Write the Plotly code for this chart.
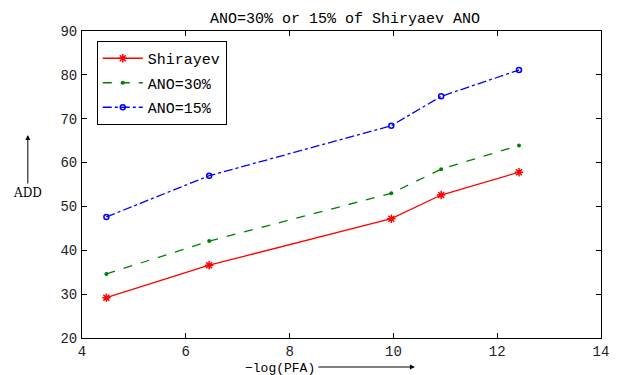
import plotly.graph_objects as go

pfa = [4.47, 6.45, 9.96, 10.92, 12.42]
shirayev = [29.2, 36.6, 47.2, 52.6, 57.8]
ano30 = [34.6, 42.1, 53.0, 58.5, 63.9]
ano15 = [47.6, 57.0, 68.4, 75.1, 81.1]

x_ticks = [4, 6, 8, 10, 12, 14]
y_ticks = [20, 30, 40, 50, 60, 70, 80, 90]

mono = "Liberation Mono"
# page offset from default body margin (8px) is compensated in sizes/margins
L, T, R, B = 82, 31, 609, 338
PW, PH = R - L, B - T


def px(xp):
    return (xp - L) / PW


def py(yp):
    return (B - yp) / PH


fig = go.Figure()
fig.add_trace(go.Scatter(x=pfa, y=shirayev, name="Shirayev", mode="lines+markers", legendgroup="a",
                         line=dict(color="red", width=1.3),
                         marker=dict(symbol="asterisk-open", size=7, color="red", line=dict(width=1.5, color="red"))))
fig.add_trace(go.Scatter(x=pfa, y=ano30, name="ANO=30%", mode="lines+markers", legendgroup="b",
                         line=dict(color="green", width=1.3, dash="dash"),
                         marker=dict(symbol="circle", size=4, color="green")))
fig.add_trace(go.Scatter(x=pfa, y=ano15, name="ANO=15%", mode="lines+markers", legendgroup="c",
                         line=dict(color="blue", width=1.3, dash="dashdot"),
                         marker=dict(symbol="circle-open", size=5, color="blue", line=dict(width=1.5))))

axis_common = dict(showgrid=False, zeroline=False, showline=True, linecolor="black", linewidth=1,
                   mirror="ticks", ticks="inside", ticklen=5, tickcolor="black",
                   tickfont=dict(family=mono, size=14, color="#222"))
fig.update_xaxes(range=[4, 14], tickvals=x_ticks, ticklabelstandoff=0, **axis_common)
fig.update_yaxes(range=[20, 90], tickvals=y_ticks, ticklabelstandoff=1, **axis_common)

fig.update_layout(
    width=610, height=367,
    margin=dict(l=L - 8, r=610 - (R - 8), t=T - 8, b=367 - (B - 8)),
    paper_bgcolor="white", plot_bgcolor="white",
    title=dict(text="ANO=30% or 15% of Shiryaev ANO", x=(345 - 8) / 610, xanchor="center",
               y=1 - (18 - 8) / 367, yanchor="middle",
               font=dict(family=mono, size=15, color="black")),
    showlegend=True,
    legend=dict(x=px(97), y=py(41), xanchor="left", yanchor="top", bordercolor="black", borderwidth=1,
                bgcolor="white", font=dict(family=mono, size=15, color="black"),
                tracegroupgap=2, itemwidth=40),
    annotations=[
        dict(text="\u2212log(PFA)", x=px(321), y=py(368), xref="paper", yref="paper",
             xanchor="right", yanchor="middle", showarrow=False, font=dict(family=mono, size=13, color="black")),
        dict(text="", x=px(420), y=py(367), xref="paper", yref="paper",
             ax=-98, ay=0, showarrow=True, arrowhead=2, arrowsize=1, arrowwidth=1, arrowcolor="black"),
        dict(text="ADD", x=px(27), y=py(193), xref="paper", yref="paper",
             xanchor="center", yanchor="middle", showarrow=False, font=dict(family="DejaVu Serif", size=12, color="black")),
        dict(text="", x=px(27), y=py(135), xref="paper", yref="paper",
             ax=0, ay=50, showarrow=True, arrowhead=2, arrowsize=1, arrowwidth=1, arrowcolor="black"),
    ],
)
fig.write_html("out.html")
